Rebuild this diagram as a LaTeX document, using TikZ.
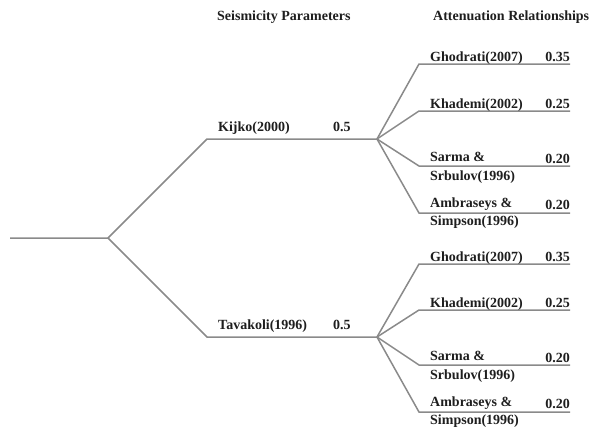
\documentclass[tikz,border=0pt]{standalone}
\usepackage{fontspec}
\setmainfont{Liberation Serif}
\definecolor{branchgray}{RGB}{138,138,138}
\definecolor{inkgray}{RGB}{30,30,30}
\tikzset{
    branch/.style = {draw = branchgray, line width = 1.5pt},
    lbl/.style = {font = \fontsize{14}{18.5}\selectfont\bfseries, text = inkgray, inner sep = 0pt, anchor = base west},
    num/.style = {lbl, anchor = base east},
    twolines/.style = {lbl, anchor = west, align = left},
}
\begin{document}
\begin{tikzpicture}[x = 1pt, y = -1pt]
    \useasboundingbox (0,0) rectangle (590,429);
    \node[lbl] (sp) at (217,20) {Seismicity Parameters};
    \node[lbl] (ar) at (433,20) {Attenuation Relationships};
    \coordinate (o) at (10,238);
    \coordinate (f) at (108,238);
    \coordinate (k) at (207,139);
    \coordinate (kf) at (377,139);
    \coordinate (t) at (207,337);
    \coordinate (tf) at (377,337);
    \draw[branch] (o) -- (f) -- (k) -- (kf);
    \draw[branch] (f) -- (t) -- (tf);
    \node[lbl] (kijko) at (218,131) {Kijko(2000)};
    \node[lbl] (pk) at (333,131) {0.5};
    \node[lbl] (tavakoli) at (218,329) {Tavakoli(1996)};
    \node[lbl] (pt) at (333,329) {0.5};
    \begin{scope}[shift = {(0,0)}]
        \coordinate (a) at (377,139);
        \coordinate (g) at (419,64);
        \coordinate (ge) at (570,64);
        \coordinate (h) at (419,111);
        \coordinate (he) at (570,111);
        \coordinate (s) at (419,166);
        \coordinate (se) at (570,166);
        \coordinate (m) at (419,213);
        \coordinate (me) at (570,213);
        \draw[branch] (a) -- (g) -- (ge);
        \draw[branch] (a) -- (h) -- (he);
        \draw[branch] (a) -- (s) -- (se);
        \draw[branch] (a) -- (m) -- (me);
        \node[lbl] (ghodrati) at (430,61) {Ghodrati(2007)};
        \node[num] at (570,61) {0.35};
        \node[lbl] (khademi) at (430,108) {Khademi(2002)};
        \node[num] at (570,108) {0.25};
        \node[twolines] (sarma) at (430,168) {Sarma \&\\Srbulov(1996)};
        \node[num] at (570,163) {0.20};
        \node[twolines] (ambraseys) at (430,213) {Ambraseys \&\\Simpson(1996)};
        \node[num] at (570,209) {0.20};
    \end{scope}
    \begin{scope}[shift = {(0,198)}]
        \coordinate (a) at (377,139);
        \coordinate (g) at (419,66);
        \coordinate (ge) at (570,66);
        \coordinate (h) at (419,112);
        \coordinate (he) at (570,112);
        \coordinate (s) at (419,167);
        \coordinate (se) at (570,167);
        \coordinate (m) at (419,214);
        \coordinate (me) at (570,214);
        \draw[branch] (a) -- (g) -- (ge);
        \draw[branch] (a) -- (h) -- (he);
        \draw[branch] (a) -- (s) -- (se);
        \draw[branch] (a) -- (m) -- (me);
        \node[lbl] (ghodrati) at (430,63) {Ghodrati(2007)};
        \node[num] at (570,63) {0.35};
        \node[lbl] (khademi) at (430,109) {Khademi(2002)};
        \node[num] at (570,109) {0.25};
        \node[twolines] (sarma) at (430,169) {Sarma \&\\Srbulov(1996)};
        \node[num] at (570,164) {0.20};
        \node[twolines] (ambraseys) at (430,214) {Ambraseys \&\\Simpson(1996)};
        \node[num] at (570,210) {0.20};
    \end{scope}
\end{tikzpicture}
\end{document}
